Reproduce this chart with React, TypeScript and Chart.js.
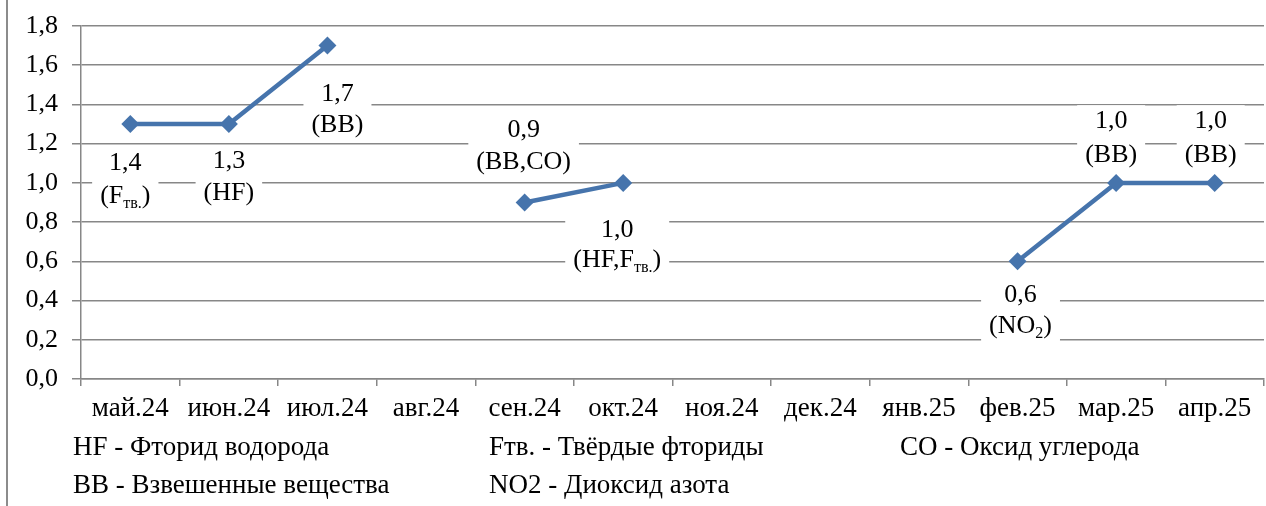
import React, { useEffect, useRef } from "react";
import { Chart, registerables } from "chart.js";

Chart.register(...registerables);

// ---------- data ----------
const categories = [
  "май.24", "июн.24", "июл.24", "авг.24", "сен.24", "окт.24",
  "ноя.24", "дек.24", "янв.25", "фев.25", "мар.25", "апр.25",
];
const values: (number | null)[] = [1.3, 1.3, 1.7, null, 0.9, 1.0, null, null, null, 0.6, 1.0, 1.0];
const labelValues: (string | null)[] = ["1,4", "1,3", "1,7", null, "0,9", "1,0", null, null, null, "0,6", "1,0", "1,0"];
const labelNames: (string | null)[] = [
  "(F_{тв.})", "(HF)", "(ВВ)", null, "(ВВ,CO)", "(HF,F_{тв.})", null, null, null, "(NO_{2})", "(ВВ)", "(ВВ)",
];
const yMin = 0;
const yMax = 1.8;
const yStep = 0.2;
const legendRow1 = ["HF - Фторид водорода", "Fтв. - Твёрдые фториды", "CO - Оксид углерода"];
const legendRow2 = ["ВВ - Взвешенные вещества", "NO2 - Диоксид азота"];

// ---------- style / placement ----------
const FONT_FAMILY = '"Liberation Serif", "Times New Roman", serif';
const FS = 26; // data labels
const FS_TICK_Y = 26;
const FS_TICK_X = 27;
const FS_LEGEND = 27;
const GRID = "#878787";
const LINE = "#4674AC";
// per-point label offsets: dx, baseline of line 1, baseline of line 2 (relative to point)
const labelPlacement = [
  { dx: -5, b1: 46, b2: 79 },
  { dx: 0, b1: 44, b2: 76 },
  { dx: 10, b1: 55, b2: 86 },
  null,
  { dx: -1, b1: -66, b2: -34 },
  { dx: -6, b1: 54, b2: 84 },
  null,
  null,
  null,
  { dx: 3, b1: 41, b2: 72 },
  { dx: -5, b1: -55, b2: -21 },
  { dx: -4, b1: -55, b2: -21 },
];
const legendCols = [73, 489, 900];
const legendBaselines = [455, 493];

type Seg = { t: string; sub: boolean };
function parseRich(s: string): Seg[] {
  const out: Seg[] = [];
  const re = /_\{([^}]*)\}/g;
  let last = 0;
  let m: RegExpExecArray | null;
  while ((m = re.exec(s))) {
    if (m.index > last) out.push({ t: s.slice(last, m.index), sub: false });
    out.push({ t: m[1], sub: true });
    last = m.index + m[0].length;
  }
  if (last < s.length) out.push({ t: s.slice(last), sub: false });
  return out;
}
const mainFont = `${FS}px ${FONT_FAMILY}`;
const subFont = `${Math.round(FS * 0.6)}px ${FONT_FAMILY}`;

function measureRich(ctx: CanvasRenderingContext2D, segs: Seg[]) {
  let w = 0;
  for (const s of segs) {
    ctx.font = s.sub ? subFont : mainFont;
    w += ctx.measureText(s.t).width;
  }
  return w;
}
function drawRich(ctx: CanvasRenderingContext2D, segs: Seg[], cx: number, baseline: number) {
  const w = measureRich(ctx, segs);
  let x = cx - w / 2;
  ctx.textAlign = "left";
  ctx.textBaseline = "alphabetic";
  for (const s of segs) {
    ctx.font = s.sub ? subFont : mainFont;
    ctx.fillText(s.t, x, s.sub ? baseline + 5 : baseline);
    x += ctx.measureText(s.t).width;
  }
}

const labelPlugin = {
  id: "pointLabels",
  afterDatasetsDraw(chart: any) {
    const ctx: CanvasRenderingContext2D = chart.ctx;
    const xs = chart.scales.x;
    const ys = chart.scales.y;
    ctx.save();
    values.forEach((v, i) => {
      const p = labelPlacement[i];
      if (v == null || !p || labelValues[i] == null) return;
      const px = xs.getPixelForValue(i) + p.dx;
      const py = ys.getPixelForValue(v);
      const l1 = parseRich(labelValues[i] as string);
      const l2 = parseRich(labelNames[i] as string);
      const w = Math.max(measureRich(ctx, l1), measureRich(ctx, l2));
      const top = py + p.b1 - FS * 0.72 - 4;
      const bottom = py + p.b2 + FS * 0.24 + 4;
      ctx.fillStyle = "#ffffff";
      ctx.fillRect(px - w / 2 - 8, top, w + 16, bottom - top);
      ctx.fillStyle = "#000000";
      drawRich(ctx, l1, px, py + p.b1);
      drawRich(ctx, l2, px, py + p.b2);
    });
    ctx.restore();
  },
  afterDraw(chart: any) {
    const ctx: CanvasRenderingContext2D = chart.ctx;
    ctx.save();
    ctx.fillStyle = "#000000";
    ctx.font = `${FS_LEGEND}px ${FONT_FAMILY}`;
    ctx.textAlign = "left";
    ctx.textBaseline = "alphabetic";
    legendRow1.forEach((t, i) => ctx.fillText(t, legendCols[i], legendBaselines[0]));
    legendRow2.forEach((t, i) => ctx.fillText(t, legendCols[i], legendBaselines[1]));
    ctx.restore();
  },
};

export default function App() {
  const ref = useRef<HTMLCanvasElement | null>(null);
  useEffect(() => {
    if (!ref.current) return;
    const chart = new Chart(ref.current, {
      type: "line",
      data: {
        labels: categories,
        datasets: [
          {
            data: values,
            borderColor: LINE,
            backgroundColor: LINE,
            borderWidth: 4.5,
            pointStyle: "rectRot",
            pointRadius: 9,
            pointHoverRadius: 9,
            pointBackgroundColor: LINE,
            pointBorderColor: LINE,
            pointBorderWidth: 0,
            tension: 0,
            spanGaps: false,
          },
        ],
      },
      options: {
        responsive: false,
        animation: false,
        devicePixelRatio: 1,
        layout: { autoPadding: false, padding: { top: 26, right: 2, left: 0, bottom: 0 } },
        plugins: { legend: { display: false }, tooltip: { enabled: false } },
        scales: {
          x: {
            type: "category",
            offset: true,
            grid: {
              offset: true,
              drawOnChartArea: false,
              drawTicks: true,
              tickLength: 7,
              color: GRID,
              lineWidth: 1.5,
            },
            border: { color: GRID, width: 1.5 },
            ticks: {
              color: "#000",
              font: { family: FONT_FAMILY, size: FS_TICK_X },
              padding: 7,
              maxRotation: 0,
              autoSkip: false,
            },
            afterFit: (s: any) => {
              s.height = 127;
              s.paddingLeft = 0;
              s.paddingRight = 0;
            },
          },
          y: {
            min: yMin,
            max: yMax,
            grid: { color: GRID, lineWidth: 1.5, tickLength: 9, drawTicks: true },
            border: { color: GRID, width: 1.5 },
            ticks: {
              stepSize: yStep,
              color: "#000",
              font: { family: FONT_FAMILY, size: FS_TICK_Y },
              padding: 14,
              callback: (v: any) => Number(v).toFixed(1).replace(".", ","),
            },
            afterFit: (s: any) => {
              s.width = 81;
              s.paddingTop = 0;
              s.paddingBottom = 0;
            },
          },
        },
      },
      plugins: [labelPlugin],
    });
    return () => chart.destroy();
  }, []);
  return (
    <div style={{ position: "fixed", left: 0, top: 0, width: 1266, height: 506, background: "#fff" }}>
      <div style={{ position: "absolute", left: 6, top: 0, width: 2, height: 506, background: "#8c8c8c" }} />
      <canvas ref={ref} width={1266} height={506} style={{ position: "absolute", left: 0, top: 0 }} />
    </div>
  );
}
